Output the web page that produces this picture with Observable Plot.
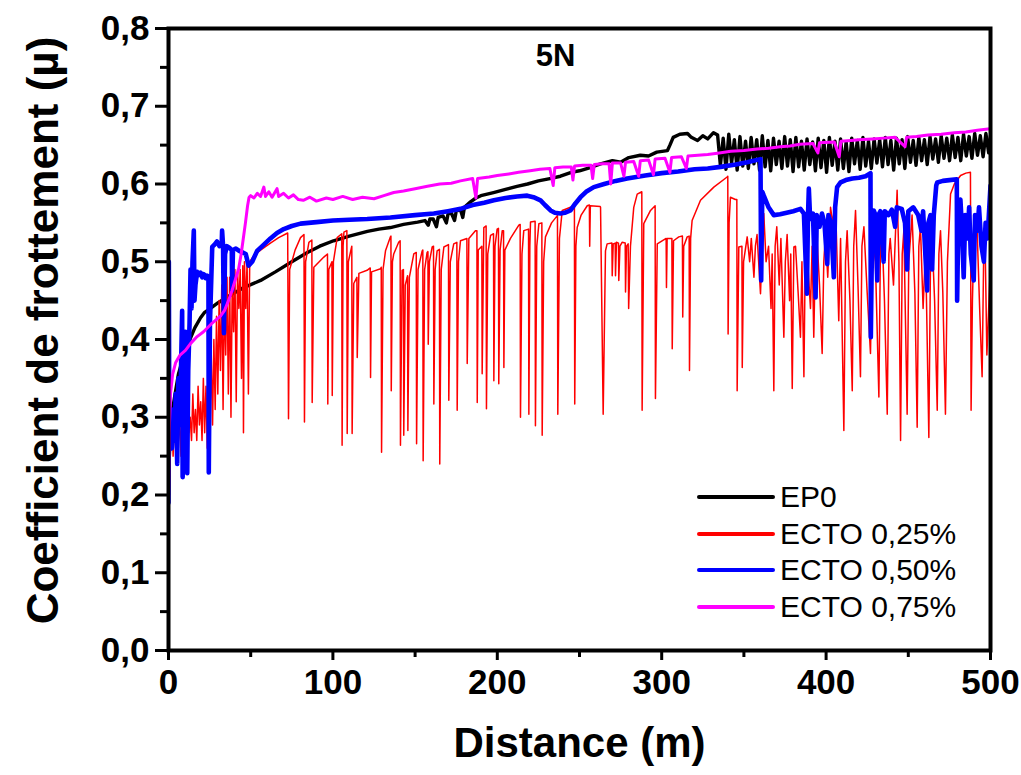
<!DOCTYPE html>
<html>
<head>
<meta charset="utf-8">
<script src="https://cdn.jsdelivr.net/npm/d3@7"></script>
<script src="https://cdn.jsdelivr.net/npm/@observablehq/plot@0.6"></script>
<style>
  body { margin: 0; background: #fff; }
  #wrap { position: relative; width: 1021px; height: 775px; }
  #legend { position: absolute; left: 697px; top: 479px; font-family: "Liberation Sans", Arial, sans-serif; font-size: 30px; color: #000; }
  .row { display: flex; align-items: center; height: 36.5px; }
  .sw { width: 78px; height: 4px; border-radius: 2px; margin-right: 5px; }
</style>
</head>
<body>
<div id="wrap"><div id="legend"></div></div>
<script>
// ---------- data (distance m, friction coefficient µ) ----------
const seriesNames = ["EP0", "ECTO 0,25%", "ECTO 0,50%", "ECTO 0,75%"];
const chartTitle = "5N";
const xTitle = "Distance (m)";
const yTitle = "Coefficient de frottement (µ)";
const xMajorTicks = [0, 100, 200, 300, 400, 500];
const xMinorTicks = [50, 150, 250, 350, 450];
const yMajorTicks = [0, 0.1, 0.2, 0.3, 0.4, 0.5, 0.6, 0.7, 0.8];
const yMinorTicks = [0.05, 0.15, 0.25, 0.35, 0.45, 0.55, 0.65, 0.75];

const ep0 = [[0,0.2],[0.5,0.25],[1.2,0.28],[2.5,0.31],[4,0.33],[6,0.355],[8,0.37],[10,0.385],[13,0.40],[16,0.415],[19.5,0.428],[22,0.435],[25.5,0.44],[30,0.447],[36,0.455],[45,0.466],[56,0.476],[65,0.487],[75,0.5],[84.5,0.512],[92,0.52],[100.4,0.527],[110,0.533],[121,0.539],[128,0.542],[135,0.544],[143,0.548],[151.5,0.551],[156,0.553],[158,0.547],[159,0.555],[161,0.555],[163,0.545],[164,0.557],[167,0.559],[169,0.55],[170,0.561],[172,0.563],[174,0.553],[175,0.565],[177.6,0.567],[179,0.557],[180,0.57],[183.7,0.577],[187,0.582],[190,0.585],[197.7,0.589],[205,0.593],[212,0.597],[218.4,0.6],[225,0.604],[232,0.607],[238.4,0.61],[245,0.615],[250,0.617],[255,0.62],[262.8,0.626],[270,0.63],[275,0.628],[280,0.634],[287,0.637],[292,0.636],[297,0.641],[303.5,0.643],[305,0.65],[307,0.66],[311,0.664],[315.7,0.665],[318,0.66],[321.8,0.656],[325,0.662],[328,0.658],[331.5,0.666],
[334,0.663],[335.7,0.624],[337.4,0.659],[339.1,0.619],[340.8,0.664],[342.5,0.627],[344.2,0.657],[345.9,0.618],[347.6,0.661],[349.3,0.623],[351,0.655],[352.7,0.62],[354.4,0.66],[356.1,0.626],[357.8,0.657],[359.5,0.618],[361.2,0.662],[362.9,0.622],[364.6,0.656],[366.3,0.617],[368,0.659],[369.7,0.625],[371.4,0.655],[373.1,0.62],[374.8,0.661],[376.5,0.623],[378.2,0.657],[379.9,0.616],[381.6,0.66],[383.3,0.622],[385,0.655],[386.7,0.618],[388.4,0.658],[390.1,0.625],[391.8,0.654],[393.5,0.617],[395.2,0.659],[396.9,0.621],[398.6,0.656],[400.3,0.615],[402,0.66],[403.7,0.624],[405.4,0.655],[407.1,0.618],[408.8,0.658],[410.5,0.62],[412.2,0.654],[413.9,0.616],[415.6,0.659],[417.3,0.626],[419,0.656],[420.7,0.619],[422.4,0.66],[424.1,0.623],[425.8,0.655],[427.5,0.62],[429.2,0.658],[430.9,0.627],[432.6,0.657],[434.3,0.622],[436,0.66],[437.7,0.625],[439.4,0.656],[441.1,0.618],[442.8,0.659],[444.5,0.626],[446.2,0.657],[447.9,0.62],[449.6,0.661],[451.3,0.628],[453,0.656],[454.7,0.624],[456.4,0.66],[458.1,0.63],[459.8,0.657],[461.5,0.625],[463.2,0.661],[464.9,0.632],[466.6,0.658],[468.3,0.628],[470,0.662],[471.7,0.633],[473.4,0.659],[475.1,0.63],[476.8,0.663],[478.5,0.634],[480.2,0.66],[481.9,0.63],[483.6,0.664],[485.3,0.636],[487,0.661],[488.7,0.633],[490.4,0.665],[492.1,0.637],[493.8,0.662],[495.5,0.635],[497.2,0.665],[498.9,0.64],[500,0.662]];

const ecto025 = [[0,0.19],[0.4,0.30],[1.2,0.26],[2,0.31],[2.8,0.25],[3.6,0.30],[4.4,0.26],[5.2,0.32],[6,0.27],[6.8,0.30],[7.6,0.25],[8.4,0.31],[9.2,0.27],[10,0.29],[10.8,0.26],[11.6,0.32],[12.4,0.28],[13.2,0.30],[14,0.27],[14.8,0.33],[15.6,0.28],[16.4,0.31],[17.2,0.27],[18,0.34],[18.8,0.29],[19.6,0.32],[20.4,0.27],[21.2,0.35],[22,0.28],[22.8,0.34],[23.6,0.26],[24.4,0.36],[25.2,0.30],[26,0.38],[26.8,0.29],[27.6,0.40],[28.4,0.31],[29.2,0.43],[30,0.33],[30.8,0.45],[31.6,0.36],[32.4,0.47],[33.2,0.31],[34,0.46],[34.8,0.38],[35.6,0.48],[36.4,0.33],[37.2,0.48],[38,0.30],[38.8,0.48],[39.6,0.41],[40.4,0.49],[41.2,0.32],[42,0.49],[42.8,0.44],[43.6,0.49],[44.4,0.35],[45.2,0.495],[45.6,0.28],[46.2,0.50],[47,0.44],[47.8,0.50],[48.6,0.33],[49.4,0.50],[52,0.508],[56,0.515],[62,0.524],[67,0.531],[72.5,0.537],[73,0.298],[73.7,0.49],[77,0.515],[80.3,0.531],[82.4,0.535],[82.7,0.294],[83.4,0.5],[85.4,0.525],[87.2,0.528],[87.4,0.319],[88.4,0.493],[94.5,0.506],[96.7,0.51],[96.9,0.317],[97.5,0.49],[99.4,0.5],[99.6,0.328],[100.3,0.5],[102.6,0.531],[105.4,0.536],[105.6,0.264],[106.2,0.52],[106.7,0.538],[108.5,0.54],[108.7,0.279],[109.4,0.5],[111.5,0.52],[111.7,0.279],[112.7,0.472],[114.6,0.48],[114.8,0.377],[115.8,0.485],[120.8,0.489],[122.7,0.492],[122.9,0.351],[123.5,0.487],[129,0.491],[129.4,0.493],[129.6,0.255],[130.5,0.49],[132,0.514],[135,0.532],[135.3,0.533],[135.5,0.334],[136.2,0.5],[137,0.51],[140,0.525],[140.9,0.527],[141.1,0.264],[142.1,0.489],[142.9,0.49],[143.1,0.277],[144,0.47],[145.2,0.48],[145.4,0.482],[145.6,0.283],[146.5,0.48],[149.2,0.51],[150.7,0.512],[150.9,0.266],[151.8,0.49],[154.3,0.514],[154.7,0.515],[154.9,0.244],[155.8,0.49],[157.3,0.512],[157.8,0.513],[158,0.394],[158.7,0.5],[160.4,0.519],[161.2,0.52],[161.4,0.317],[162.2,0.49],[163.4,0.514],[164.8,0.516],[165,0.24],[165.9,0.49],[167.5,0.519],[170.3,0.522],[170.5,0.322],[171.4,0.5],[173.5,0.523],[175.4,0.525],[175.6,0.309],[176.4,0.5],[177.6,0.527],[181.5,0.53],[181.7,0.369],[182.7,0.53],[186.7,0.54],[187.6,0.54],[187.8,0.319],[188.4,0.515],[190.6,0.52],[190.8,0.356],[191.8,0.544],[193.2,0.546],[193.4,0.311],[194.2,0.51],[195.9,0.534],[197.7,0.536],[197.9,0.347],[198.6,0.52],[199.9,0.542],[200.7,0.543],[200.9,0.343],[201.7,0.515],[203,0.54],[203.8,0.54],[204,0.364],[204.6,0.515],[208,0.53],[213.1,0.547],[213.9,0.548],[214.1,0.30],[215,0.51],[216.1,0.54],[219,0.542],[219.2,0.304],[219.8,0.52],[220.2,0.551],[223,0.552],[223.2,0.289],[224,0.52],[225.3,0.549],[227.1,0.55],[227.3,0.277],[228.2,0.5],[229.3,0.532],[233,0.55],[236.4,0.559],[236.6,0.56],[236.8,0.304],[237.8,0.53],[239.5,0.566],[244.5,0.57],[246.9,0.571],[247.1,0.317],[247.8,0.52],[248.6,0.544],[251,0.56],[254.7,0.572],[256,0.573],[256.2,0.52],[256.6,0.572],[262.6,0.571],[262.8,0.57],[264.4,0.304],[265.8,0.514],[266.8,0.523],[269.7,0.524],[269.9,0.482],[270.5,0.523],[271.7,0.524],[271.9,0.482],[272.5,0.525],[273.7,0.524],[273.9,0.476],[274.6,0.52],[275.9,0.525],[277.8,0.524],[278,0.461],[278.6,0.52],[279.6,0.523],[279.9,0.44],[281,0.52],[283,0.57],[285.1,0.587],[287.9,0.59],[288.1,0.309],[289.1,0.549],[293.2,0.566],[296,0.572],[296.2,0.324],[297.3,0.523],[302.7,0.53],[302.9,0.467],[303.3,0.53],[306.2,0.53],[306.4,0.388],[307.2,0.527],[310.4,0.532],[312.6,0.533],[312.8,0.429],[313.4,0.52],[315.5,0.532],[316.7,0.533],[316.9,0.36],[317.6,0.53],[318.5,0.553],[323.6,0.579],[331.7,0.596],[339.8,0.609],[340.2,0.61],[340.4,0.407],[341,0.55],[341.8,0.583],[344.8,0.58],[345.7,0.58],[345.9,0.334],[346.9,0.519],[348.8,0.52],[349,0.364],[349.8,0.5],[352,0.532],[353.5,0.5],[354.5,0.53],[356.1,0.48],[357,0.52],[358,0.535],[360.1,0.459],[360.8,0.5],[362.1,0.562],[363.5,0.5],[365,0.52],[366.5,0.44],[367.2,0.51],[368.2,0.334],[369,0.52],[370,0.545],[371.5,0.47],[372.5,0.53],[374.3,0.403],[375.2,0.5],[376.3,0.535],[377.8,0.45],[378.5,0.51],[379.4,0.337],[380.4,0.519],[381.4,0.52],[383,0.46],[384.4,0.403],[385.3,0.5],[386.5,0.352],[387.3,0.5],[388.5,0.51],[390.5,0.44],[391.5,0.52],[392.5,0.403],[393.5,0.51],[394.6,0.525],[396,0.47],[397.6,0.382],[398.6,0.5],[399.6,0.535],[401,0.48],[402.7,0.57],[404,0.55],[405.7,0.579],[407.7,0.424],[408.8,0.53],[410.8,0.283],[411.8,0.5],[412.8,0.54],[414.5,0.45],[415.9,0.334],[416.8,0.52],[417.9,0.566],[419.4,0.47],[420.9,0.352],[421.8,0.52],[423,0.545],[425,0.46],[427,0.382],[428.3,0.53],[430,0.5],[432.1,0.326],[433,0.51],[433.9,0.545],[435.5,0.45],[437.2,0.304],[438.2,0.51],[439,0.53],[441,0.47],[443.2,0.592],[444.3,0.5],[445.3,0.27],[446.3,0.51],[447.3,0.54],[449.3,0.304],[450.3,0.5],[452.3,0.56],[454,0.46],[455.4,0.287],[456.4,0.52],[457.4,0.545],[459,0.44],[460.5,0.52],[462.5,0.274],[463.5,0.5],[464.5,0.53],[466,0.45],[467.6,0.309],[468.6,0.51],[469.6,0.54],[471,0.46],[472.6,0.304],[473.8,0.5],[475.7,0.587],[478,0.6],[481.8,0.611],[485,0.614],[487.8,0.615],[488.2,0.309],[489,0.45],[489.8,0.515],[491.8,0.545],[493.4,0.44],[494.9,0.352],[495.8,0.5],[496.9,0.5],[497.8,0.38],[499,0.446],[500,0.5]];

const ecto050 = [[0,0.19],[0.2,0.5],[0.5,0.27],[1.2,0.29],[2,0.26],[2.8,0.31],[3.6,0.27],[4.4,0.33],[5.3,0.24],[6,0.35],[6.8,0.29],[7.6,0.36],[8.3,0.437],[8.6,0.223],[9.4,0.33],[10.3,0.41],[10.8,0.30],[11.4,0.228],[12,0.36],[12.8,0.42],[13.4,0.49],[14,0.44],[14.6,0.5],[15.4,0.54],[15.8,0.45],[16.4,0.47],[17.4,0.487],[18.5,0.483],[19.5,0.486],[20.5,0.48],[21.5,0.484],[22.5,0.479],[23.5,0.482],[24.3,0.476],[24.5,0.229],[25.2,0.42],[26.6,0.519],[28,0.522],[29.5,0.526],[31,0.52],[32.4,0.525],[32.6,0.54],[33.2,0.52],[33.7,0.408],[34.4,0.51],[35.5,0.52],[37,0.518],[38.5,0.515],[38.7,0.463],[39.2,0.515],[41,0.517],[43,0.514],[45,0.512],[47,0.51],[48.7,0.495],[50.9,0.5],[53.9,0.514],[58,0.522],[62,0.53],[66,0.537],[70.1,0.542],[75,0.546],[80.3,0.549],[90,0.551],[100,0.553],[110,0.554],[120.9,0.555],[135,0.557],[150,0.56],[161.4,0.562],[170,0.565],[177.6,0.568],[185,0.573],[192,0.576],[197.9,0.579],[205,0.582],[212,0.584],[218.2,0.585],[222,0.583],[226.3,0.579],[229,0.573],[232.4,0.566],[235,0.563],[238.4,0.562],[241,0.563],[244.5,0.566],[247.5,0.575],[250.6,0.583],[254,0.59],[258.7,0.596],[265,0.6],[272,0.604],[279,0.607],[290,0.611],[300,0.614],[310,0.616],[320,0.619],[328,0.62],[335.8,0.622],[345,0.625],[352,0.628],[360.1,0.632],[360.5,0.476],[361.2,0.59],[362.1,0.585],[365,0.57],[368.2,0.56],[372,0.561],[376,0.563],[380,0.565],[384.4,0.568],[386.5,0.562],[388.3,0.459],[389,0.56],[389.5,0.594],[390.3,0.555],[392,0.562],[393.6,0.454],[394.3,0.56],[396,0.545],[397.5,0.562],[399,0.55],[400.7,0.497],[401.4,0.56],[403,0.55],[404.7,0.48],[405.5,0.57],[406.7,0.596],[408.8,0.602],[412,0.605],[416,0.607],[420,0.608],[424,0.61],[427,0.614],[427.2,0.403],[428,0.54],[429,0.566],[430,0.56],[431.1,0.476],[431.8,0.56],[433,0.565],[435,0.5],[435.7,0.565],[438,0.56],[440,0.567],[442,0.545],[443,0.57],[446,0.568],[448,0.55],[449.3,0.49],[450,0.565],[453,0.57],[456,0.56],[458,0.54],[459,0.565],[461.5,0.463],[462.2,0.55],[463.5,0.56],[464.5,0.49],[465.5,0.56],[467,0.598],[467.6,0.602],[471,0.604],[475,0.605],[479.5,0.606],[479.7,0.45],[480.5,0.56],[481.7,0.58],[482.7,0.54],[483.7,0.48],[484.6,0.56],[486,0.53],[487,0.57],[488,0.51],[489.8,0.476],[490.6,0.56],[492,0.54],[493,0.57],[494.5,0.52],[496,0.5],[497,0.55],[498.2,0.53],[499,0.56],[500,0.598]];

const ecto075 = [[0,0.19],[0.4,0.28],[1.2,0.33],[2.5,0.355],[4.3,0.37],[7,0.38],[10.3,0.386],[13.5,0.395],[17,0.403],[21.3,0.41],[26,0.42],[31.6,0.43],[34,0.437],[36.5,0.45],[38.5,0.462],[40.5,0.476],[42.6,0.49],[44.2,0.51],[45.5,0.53],[46.8,0.55],[48.1,0.572],[49,0.583],[50,0.585],[52,0.582],[54,0.588],[56,0.584],[58,0.596],[59,0.584],[61,0.59],[63,0.583],[66,0.594],[67,0.584],[70,0.588],[73,0.582],[76,0.586],[79,0.58],[82,0.579],[86,0.583],[90,0.578],[96,0.582],[100,0.58],[106,0.584],[112,0.58],[118,0.583],[125,0.581],[131,0.585],[137,0.589],[143,0.591],[150,0.594],[157.5,0.597],[165,0.6],[172,0.601],[177.6,0.604],[185,0.607],[187,0.582],[188,0.607],[195,0.609],[200,0.611],[207,0.613],[213,0.615],[220,0.617],[226,0.619],[232,0.62],[234,0.598],[235,0.621],[240,0.622],[245,0.622],[246,0.605],[247,0.623],[252,0.624],[257,0.624],[258,0.607],[259,0.625],[264,0.626],[268,0.626],[269,0.6],[270,0.627],[275,0.627],[277,0.61],[278,0.628],[283,0.629],[286,0.61],[287,0.63],[292,0.631],[295,0.612],[296,0.632],[302,0.633],[305,0.615],[306,0.634],[312,0.635],[315,0.62],[316,0.636],[322,0.637],[328,0.638],[335,0.64],[342,0.642],[350,0.643],[358,0.645],[365,0.646],[372,0.648],[378,0.649],[384,0.651],[392,0.652],[395,0.64],[396,0.653],[405,0.654],[408,0.635],[409,0.655],[415,0.656],[420,0.657],[428,0.658],[435,0.659],[442,0.66],[448,0.648],[449,0.66],[455,0.661],[462,0.663],[470,0.664],[478,0.666],[485,0.667],[492,0.669],[500,0.671]];

// ---------- styling ----------
const seriesData = [ep0, ecto025, ecto050, ecto075];
const colors = ["#000000", "#ff0000", "#0000ff", "#ff00ff"];
const lineWidths = [3.4, 1.5, 4.6, 3];
const commaFmt = d => d3.format(".1f")(d).replace(".", ",");

const chart = Plot.plot({
  width: 1021,
  height: 775,
  marginLeft: 168,
  marginRight: 31,
  marginTop: 28,
  marginBottom: 125,
  style: { fontFamily: "'Liberation Sans', Arial, sans-serif", fontWeight: "bold", color: "#000", background: "#fff", overflow: "visible" },
  x: { domain: [0, 500] },
  y: { domain: [0, 0.8] },
  marks: [
    ...seriesData.map((s, i) => Plot.line(s, { x: d => d[0], y: d => d[1], stroke: colors[i], strokeWidth: lineWidths[i], clip: true })),
    Plot.frame({ stroke: "#000", strokeWidth: 4 }),
    Plot.axisY({ ticks: yMajorTicks, tickSize: 13, tickPadding: 6, tickFormat: commaFmt, fontSize: 35, fontWeight: "bold", strokeWidth: 3, label: null }),
    Plot.axisY({ ticks: yMinorTicks, tickSize: 8, tickFormat: () => "", strokeWidth: 3, label: null }),
    Plot.axisX({ ticks: xMajorTicks, tickSize: 10, tickPadding: 9, tickFormat: d3.format("d"), fontSize: 35, fontWeight: "bold", strokeWidth: 3, label: null }),
    Plot.axisX({ ticks: xMinorTicks, tickSize: 7, tickFormat: () => "", strokeWidth: 3, label: null }),
    Plot.text([chartTitle], { frameAnchor: "top", dx: -24, dy: 15, fontSize: 31, fontWeight: "bold" }),
    Plot.text([xTitle], { frameAnchor: "bottom", dy: 106, fontSize: 42, fontWeight: "bold" }),
    Plot.text([yTitle], { frameAnchor: "left", textAnchor: "middle", dx: -125, dy: -9, rotate: -90, fontSize: 44, fontWeight: "bold" })
  ]
});
document.getElementById("wrap").prepend(chart);

// legend
const legend = document.getElementById("legend");
seriesNames.forEach((n, i) => {
  const row = document.createElement("div");
  row.className = "row";
  const sw = document.createElement("span");
  sw.className = "sw";
  sw.style.background = colors[i];
  const t = document.createElement("span");
  t.textContent = n;
  row.appendChild(sw);
  row.appendChild(t);
  legend.appendChild(row);
});
</script>
</body>
</html>
